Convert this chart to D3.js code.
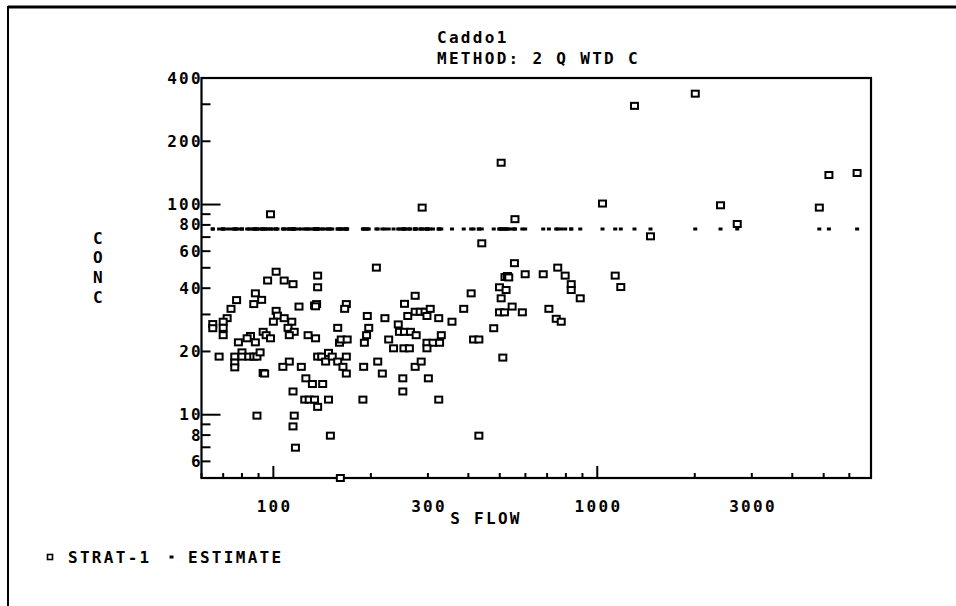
<!DOCTYPE html>
<html>
<head>
<meta charset="utf-8">
<script src="https://cdn.jsdelivr.net/npm/d3@7"></script>
<style>
  body { margin: 0; background: #fff; }
  text { font-family: "DejaVu Sans Mono", monospace; font-weight: bold; font-size: 16px; letter-spacing: 2.3px; fill: #000; }
</style>
</head>
<body>
<svg id="chart" width="956" height="606"></svg>
<script>
// STRAT-1 samples: flow and concentration
const flow = [
  102, 96, 108, 115, 137, 137, 77, 88, 87, 92, 74, 120, 134, 136, 135,
  72, 102, 103, 108, 100, 114, 65, 65, 70, 70, 70, 111, 116, 112, 93, 95, 98,
  85, 83, 88, 78, 128, 135, 158, 160, 68, 76, 76, 76, 80, 80, 84, 87, 89, 91,
  137, 141, 148, 145, 152, 158, 93, 94, 112, 107, 122, 126, 132, 142, 115,
  125, 129, 134, 137, 148, 89, 116, 115, 150, 117, 161,
  208, 168, 166, 274, 254, 408, 195, 221, 260, 274, 284, 294, 305, 298, 324,
  356, 387, 197, 194, 191, 162, 169, 243, 245, 254, 265, 276, 227, 235, 253,
  263, 298, 311, 326, 298, 330, 168, 164, 168, 190, 210, 217, 274, 286, 251,
  301, 251, 189, 324,
  440, 555, 519, 528, 533, 599, 681, 755, 796, 831, 831, 886, 499, 523, 505,
  546, 499, 517, 587, 709, 747, 774, 479, 415, 431, 511, 431, 1136, 1182,
  98, 288, 505, 1303, 2007, 1038, 557, 1460, 2402, 2705, 4848, 5190, 6342
];
const conc = [
  47.9, 43.5, 43.5, 41.8, 45.9, 40.4, 35.1, 37.8, 33.6, 35.2, 31.9, 32.7, 33.1, 33.6, 32.8,
  28.8, 31.2, 29.6, 28.8, 27.7, 27.7, 27.0, 25.8, 27.7, 25.9, 23.9, 25.9, 24.8, 23.9, 24.8, 23.9, 23.1,
  23.7, 23.1, 22.1, 22.1, 23.9, 23.1, 25.9, 22.0, 18.9, 18.9, 17.7, 16.8, 19.8, 18.9, 18.9, 18.9, 18.9, 19.8,
  18.9, 18.9, 19.7, 17.9, 18.9, 17.9, 15.8, 15.7, 17.9, 16.9, 16.9, 14.9, 14.0, 14.0, 12.9,
  11.8, 11.8, 11.8, 10.9, 11.8, 9.9, 9.9, 8.8, 7.95, 6.97, 5.0,
  50.1, 33.6, 31.9, 36.8, 33.7, 37.8, 29.5, 28.8, 29.5, 30.9, 30.9, 30.9, 31.9, 29.5, 28.8,
  27.7, 31.9, 25.9, 23.9, 22.0, 22.8, 22.8, 26.9, 24.8, 24.8, 24.8, 23.9, 22.8, 20.7, 20.7,
  20.7, 22.0, 22.0, 22.0, 20.7, 23.9, 18.9, 16.9, 15.7, 16.9, 17.9, 15.7, 16.9, 17.9, 14.9,
  14.9, 12.9, 11.8, 11.8,
  65.4, 52.6, 45.2, 45.7, 45.0, 46.6, 46.6, 50.1, 45.9, 41.8, 39.2, 35.8, 40.4, 39.2, 35.8,
  32.7, 30.7, 30.7, 30.7, 31.9, 28.6, 27.7, 25.8, 22.8, 22.8, 18.7, 7.95, 45.9, 40.5,
  89.9, 96.7, 158.1, 294.8, 336.9, 101.1, 85.2, 70.6, 99.2, 80.8, 96.7, 138.2, 141.3
];
// flow-weighted estimate, one value for every sample flow
const estimateConc = 76.5;

const yTickLabels = [6, 8, 10, 20, 40, 60, 80, 100, 200, 400];
const xTickLabels = [100, 300, 1000, 3000];
const yAxisLetters = ['C', 'O', 'N', 'C'];

const svg = d3.select('#chart');
const plot = { left: 201.5, right: 871, top: 78, bottom: 478 };

const x = d3.scaleLog().domain([60, 7000]).range([plot.left, plot.right]);
const y = d3.scaleLog().domain([5, 400]).range([plot.bottom, plot.top]);

const isDecade = (v) => Math.abs(Math.log10(v) - Math.round(Math.log10(v))) < 1e-9;

// outer page frame
svg.append('line').attr('x1', 8).attr('x2', 956).attr('y1', 7).attr('y2', 7)
  .attr('stroke', '#000').attr('stroke-width', 3);
svg.append('line').attr('x1', 8).attr('x2', 8).attr('y1', 6).attr('y2', 606)
  .attr('stroke', '#000').attr('stroke-width', 2);

// plot box
svg.append('rect')
  .attr('x', plot.left).attr('y', plot.top)
  .attr('width', plot.right - plot.left).attr('height', plot.bottom - plot.top)
  .attr('fill', 'none').attr('stroke', '#000').attr('stroke-width', 2.2);

// y ticks point inward
svg.append('g').selectAll('line').data(y.ticks()).enter().append('line')
  .attr('x1', plot.left)
  .attr('x2', (d) => plot.left + (isDecade(d) ? 19 : 9))
  .attr('y1', (d) => y(d)).attr('y2', (d) => y(d))
  .attr('stroke', '#000').attr('stroke-width', 2);

// x ticks point upward
svg.append('g').selectAll('line').data(x.ticks()).enter().append('line')
  .attr('x1', (d) => x(d)).attr('x2', (d) => x(d))
  .attr('y1', plot.bottom)
  .attr('y2', (d) => plot.bottom - (isDecade(d) ? 12 : 5))
  .attr('stroke', '#000').attr('stroke-width', 2);

svg.append('g').selectAll('text').data(yTickLabels).enter().append('text')
  .attr('x', plot.left + 1.5)
  .attr('y', (d) => y(d))
  .attr('dominant-baseline', 'central')
  .attr('text-anchor', 'end')
  .text((d) => d);

svg.append('g').selectAll('text').data(xTickLabels).enter().append('text')
  .attr('x', (d) => x(d) + 1.2)
  .attr('y', 506)
  .attr('dominant-baseline', 'central')
  .attr('text-anchor', 'middle')
  .text((d) => d);

// titles
svg.append('text').attr('x', 437).attr('y', 37).attr('dominant-baseline', 'central').text('Caddo1');
svg.append('text').attr('x', 437).attr('y', 58).attr('dominant-baseline', 'central').text('METHOD: 2 Q WTD C');
svg.append('text').attr('x', 486).attr('y', 518).attr('dominant-baseline', 'central')
  .attr('text-anchor', 'middle').text('S FLOW');

svg.append('g').selectAll('text').data(yAxisLetters).enter().append('text')
  .attr('x', 99).attr('y', (d, i) => 238 + i * 19.7)
  .attr('dominant-baseline', 'central').attr('text-anchor', 'middle')
  .text((d) => d);

const samples = flow.map((f, i) => ({ flow: f, conc: conc[i] }));

// estimate dots
svg.append('g').selectAll('rect').data(samples).enter().append('rect')
  .attr('x', (d) => x(d.flow) - 2).attr('y', y(estimateConc) - 1.5)
  .attr('width', 4).attr('height', 3).attr('fill', '#000');

// sample squares
svg.append('g').selectAll('rect').data(samples).enter().append('rect')
  .attr('x', (d) => x(d.flow) - 3.5).attr('y', (d) => y(d.conc) - 3)
  .attr('width', 7).attr('height', 6)
  .attr('fill', '#fff').attr('stroke', '#000').attr('stroke-width', 2);

// legend
svg.append('rect').attr('x', 47.5).attr('y', 554.5).attr('width', 5).attr('height', 5)
  .attr('fill', '#fff').attr('stroke', '#000').attr('stroke-width', 1.6);
svg.append('text').attr('x', 68).attr('y', 557).attr('dominant-baseline', 'central').text('STRAT-1');
svg.append('rect').attr('x', 169.5).attr('y', 555.5).attr('width', 4).attr('height', 3).attr('fill', '#000');
svg.append('text').attr('x', 188).attr('y', 557).attr('dominant-baseline', 'central').text('ESTIMATE');
</script>
</body>
</html>
